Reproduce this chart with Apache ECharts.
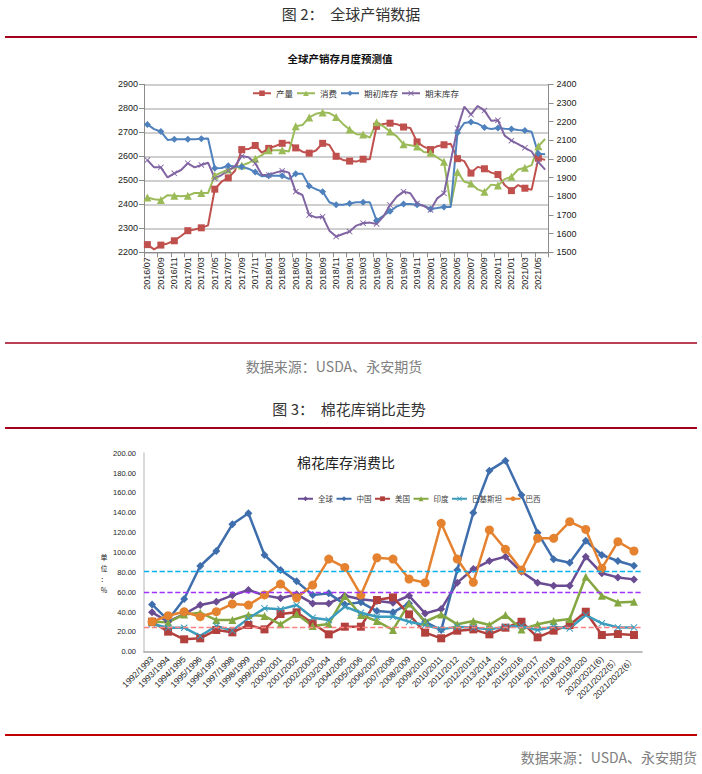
<!DOCTYPE html>
<html><head><meta charset="utf-8">
<script src="https://cdn.jsdelivr.net/npm/echarts@6.0.0/dist/echarts.min.js"></script>
<style>html,body{margin:0;padding:0;background:#fff}#main{width:702px;height:774px}</style>
</head><body><div id="main"></div>
<script>
// ---------- Chart 1: 全球产销存月度预测值 ----------
const months = ['2016/07','2016/08','2016/09','2016/10','2016/11','2016/12',
 '2017/01','2017/02','2017/03','2017/04','2017/05','2017/06','2017/07','2017/08','2017/09','2017/10','2017/11','2017/12',
 '2018/01','2018/02','2018/03','2018/04','2018/05','2018/06','2018/07','2018/08','2018/09','2018/10','2018/11','2018/12',
 '2019/01','2019/02','2019/03','2019/04','2019/05','2019/06','2019/07','2019/08','2019/09','2019/10','2019/11','2019/12',
 '2020/01','2020/02','2020/03','2020/04','2020/05','2020/06','2020/07','2020/08','2020/09','2020/10','2020/11','2020/12',
 '2021/01','2021/02','2021/03','2021/04','2021/05','2021/06'];
const production = [2232,2212,2230,2237,2248,2268,2290,2295,2302,2312,
 2463,2494,2510,2540,2628,2630,2645,2615,2633,2643,
 2654,2658,2635,2619,2613,2624,2654,2647,2600,2585,
 2580,2578,2588,2588,2725,2735,2738,2734,2722,2718,
 2660,2640,2628,2642,2648,2652,2590,2580,2530,2556,
 2548,2532,2524,2480,2457,2480,2467,2461,2592,2585];
const consumption = [2428,2421,2418,2438,2436,2434,2436,2447,2447,2447,
 2520,2533,2545,2552,2562,2572,2590,2605,2625,2625,
 2625,2620,2725,2730,2762,2777,2783,2780,2764,2735,
 2712,2692,2691,2678,2742,2725,2703,2683,2650,2646,
 2641,2618,2615,2595,2577,2395,2535,2494,2487,2462,
 2452,2482,2478,2505,2515,2545,2552,2563,2642,2672];
const beginStock = [2185,2160,2147,2102,2106,2106,2106,2106,2108,2110,
 1950,1952,1964,1960,1958,1948,1930,1907,1910,1910,
 1910,1893,1921,1921,1855,1838,1825,1768,1755,1755,
 1762,1768,1768,1768,1670,1696,1720,1746,1759,1759,
 1755,1750,1732,1737,1743,1743,2140,2193,2198,2190,
 2168,2160,2166,2162,2160,2155,2152,2146,2028,2025];
const endStock = [1994,1955,1955,1901,1923,1941,1977,1955,1968,1980,
 1896,1914,1937,1962,2016,2009,1977,1914,1914,1927,
 1937,1927,1825,1807,1700,1687,1691,1616,1584,1598,
 1611,1643,1656,1659,1652,1691,1753,1798,1825,1816,
 1762,1748,1727,1789,1816,1990,2165,2280,2238,2284,
 2259,2205,2207,2125,2098,2080,2060,2040,1983,1943];

// ---------- Chart 2: 棉花库存消费比 ----------
const seasons = ['1992/1993','1993/1994','1994/1995','1995/1996','1996/1997','1997/1998','1998/1999','1999/2000',
 '2000/2001','2001/2002','2002/2003','2003/2004','2004/2005','2005/2006','2006/2007','2007/2008','2008/2009',
 '2009/2010','2010/2011','2011/2012','2012/2013','2013/2014','2014/2015','2015/2016','2016/2017','2017/2018',
 '2018/2019','2019/2020','2020/2021(6)','2021/2022(5）','2021/2022(6）'];
const ratioGlobal = [39.7,30.2,38.0,47.0,50.4,56.8,62.2,56.8,53.8,57.8,48.7,48.7,56.4,52.8,51.1,49.4,56.4,38.6,43.0,69.6,83.3,91.4,95.8,80.6,69.6,66.5,66.5,95.8,79.0,74.9,72.9];
const ratioChina = [47.7,31.9,53.1,86.4,101.5,128.4,139.5,97.5,82.3,70.9,57.2,58.8,47.7,49.8,41.0,39.7,48.7,30.0,21.8,82.3,140.1,182.5,192.6,157.9,120.0,93.1,89.7,111.9,97.5,91.4,86.7];
const ratioUSA = [30.2,20.2,12.5,13.5,21.9,19.5,26.9,22.5,38.0,39.7,28.6,17.5,25.2,25.2,52.1,54.8,37.6,19.2,13.5,21.2,22.5,17.5,24.2,30.2,14.5,21.2,26.9,40.3,16.8,17.8,16.8];
const ratioIndia = [30.2,29.6,37.6,39.3,31.9,31.9,37.0,36.0,27.6,38.0,25.9,27.9,56.1,37.0,30.9,21.9,48.7,30.2,37.6,27.6,30.9,26.9,37.0,22.5,27.6,30.9,32.9,75.6,56.5,49.7,50.4];
const ratioPakistan = [27.9,24.2,24.2,15.8,25.9,21.2,33.6,43.7,42.7,47.0,34.3,31.9,45.4,39.3,35.3,35.3,30.2,26.9,22.5,25.2,24.2,22.5,25.2,25.9,21.9,25.2,23.5,37.0,28.6,24.5,24.5];
const ratioBrazil = [30.2,36.3,40.3,35.3,40.3,48.1,47.0,57.2,68.2,54.4,67.2,93.4,85.0,57.2,94.7,93.4,73.3,69.6,129.4,93.4,69.9,122.7,103.2,82.3,114.3,114.3,131.1,123.3,84.0,110.9,101.5];
const refLines = [81, 60, 25];

const FONT = "'Liberation Sans','Noto Sans CJK SC',sans-serif";
const CJK = "'Noto Sans CJK SC',sans-serif";
const XSYM = 'path://M0,1L1,0L5,4L9,0L10,1L6,5L10,9L9,10L5,6L1,10L0,9L4,5Z';

const chart = echarts.init(document.getElementById('main'), null, {renderer: 'svg', width: 702, height: 774});

function line1(name, data, color, symbol, size, yIdx) {
  return {name, type: 'line', xAxisIndex: 0, yAxisIndex: yIdx, data,
    symbol, symbolSize: size, lineStyle: {color, width: 2}, itemStyle: {color},
    showSymbol: true};
}
function line2(name, data, color, symbol, size) {
  return {name, type: 'line', xAxisIndex: 1, yAxisIndex: 2, data,
    symbol, symbolSize: size, lineStyle: {color, width: 2.5}, itemStyle: {color}};
}

const s2 = [
  line2('全球', ratioGlobal, '#6a4c93', 'diamond', 8),
  line2('中国', ratioChina, '#3f6ead', 'diamond', 8),
  line2('美国', ratioUSA, '#b2403d', 'rect', 8),
  line2('印度', ratioIndia, '#85a742', 'triangle', 8),
  line2('巴基斯坦', ratioPakistan, '#3b9cbd', XSYM, 7),
  line2('巴西', ratioBrazil, '#e5822f', 'circle', 9)
];
const refColors = ['#00b0f0', '#a033ff', '#ff8080'];
s2[0].markLine = {silent: true, symbol: 'none', label: {show: false}, animation: false,
  data: refLines.map((v, i) => ({yAxis: v, lineStyle: {color: refColors[i], type: 'dashed', width: 1.3}}))};

const option = {
  animation: false,
  backgroundColor: '#fff',
  textStyle: {fontFamily: FONT},
  grid: [
    {left: 144, top: 84.3, width: 404.5, height: 168},
    {left: 144, top: 453.3, width: 498, height: 198.4}
  ],
  legend: [
    {data: ['产量', '消费', '期初库存', '期末库存'], left: 247, top: 84, itemWidth: 18, itemHeight: 7, itemGap: 3,
      textStyle: {fontSize: 8.5, color: '#333', fontFamily: CJK}},
    {data: ['全球', '中国', '美国', '印度', '巴基斯坦', '巴西'], left: 292, top: 490, itemWidth: 15, itemHeight: 6, itemGap: 2.5,
      textStyle: {fontSize: 7.5, color: '#404040', fontFamily: CJK}}
  ],
  xAxis: [
    {gridIndex: 0, type: 'category', data: months, boundaryGap: true,
      axisLine: {lineStyle: {color: '#8c8c8c', width: 1}},
      axisTick: {show: true, interval: 1, lineStyle: {color: '#8c8c8c'}},
      axisLabel: {rotate: 90, interval: 1, fontSize: 9, color: '#222', margin: 5}},
    {gridIndex: 1, type: 'category', data: seasons, boundaryGap: true,
      axisLine: {lineStyle: {color: '#a6a6a6', width: 1.5}},
      axisTick: {show: false},
      axisLabel: {rotate: 45, interval: 0, fontSize: 8.5, color: '#222', margin: 6}}
  ],
  yAxis: [
    {gridIndex: 0, type: 'value', min: 2200, max: 2900, interval: 100,
      axisLine: {show: true, lineStyle: {color: '#8c8c8c'}},
      axisTick: {show: true, lineStyle: {color: '#8c8c8c'}},
      splitLine: {lineStyle: {color: '#bfbfbf', width: 1.5}},
      axisLabel: {fontSize: 9, color: '#222', margin: 6, formatter: v => String(v)}},
    {gridIndex: 0, type: 'value', position: 'right', min: 1500, max: 2400, interval: 100,
      axisLine: {show: true, lineStyle: {color: '#8c8c8c'}},
      axisTick: {show: true, lineStyle: {color: '#8c8c8c'}},
      splitLine: {show: false},
      axisLabel: {fontSize: 9, color: '#222', margin: 8, formatter: v => String(v)}},
    {gridIndex: 1, type: 'value', min: 0, max: 200, interval: 20,
      axisLine: {show: true, lineStyle: {color: '#d9d9d9', width: 2}},
      axisTick: {show: false},
      splitLine: {show: false},
      axisLabel: {fontSize: 7.5, color: '#222', margin: 8, formatter: v => v.toFixed(2)}}
  ],
  series: [
    line1('产量', production, '#c0504d', 'rect', 7, 0),
    line1('消费', consumption, '#9bbb59', 'triangle', 8, 0),
    line1('期初库存', beginStock, '#4f81bd', 'diamond', 7, 1),
    line1('期末库存', endStock, '#8064a2', XSYM, 6, 1),
    ...s2
  ],
  graphic: [
    {type: 'text', left: 'center', top: 6, style: {text: '图 2：  全球产销数据', font: '15px ' + CJK, fill: '#333'}},
    {type: 'line', shape: {x1: 5, y1: 37, x2: 697, y2: 37}, style: {stroke: '#a3001e', lineWidth: 2}},
    {type: 'text', x: 340, y: 58, style: {text: '全球产销存月度预测值', font: 'bold 10.5px ' + CJK, fill: '#111', textAlign: 'center', textVerticalAlign: 'middle'}},
    {type: 'line', shape: {x1: 5, y1: 343, x2: 697, y2: 343}, style: {stroke: '#a3001e', lineWidth: 1.5}},
    {type: 'text', x: 334, y: 366, style: {text: '数据来源：USDA、永安期货', font: '14px ' + CJK, fill: '#808080', textAlign: 'center', textVerticalAlign: 'middle'}},
    {type: 'text', x: 349, y: 408, style: {text: '图 3：  棉花库销比走势', font: '15px ' + CJK, fill: '#333', textAlign: 'center', textVerticalAlign: 'middle'}},
    {type: 'line', shape: {x1: 5, y1: 428, x2: 697, y2: 428}, style: {stroke: '#a3001e', lineWidth: 2}},
    {type: 'text', x: 346, y: 462, style: {text: '棉花库存消费比', font: '14px ' + CJK, fill: '#222', textAlign: 'center', textVerticalAlign: 'middle'}},
    {type: 'text', x: 104, y: 573, style: {text: '单\n位\n：\n%', font: '7px ' + CJK, fill: '#222', textAlign: 'center', textVerticalAlign: 'middle', lineHeight: 11}},
    {type: 'line', shape: {x1: 5, y1: 735, x2: 697, y2: 735}, style: {stroke: '#c00000', lineWidth: 2}},
    {type: 'text', x: 697, y: 757, style: {text: '数据来源：USDA、永安期货', font: '14px ' + CJK, fill: '#808080', textAlign: 'right', textVerticalAlign: 'middle'}}
  ]
};
chart.setOption(option);
</script></body></html>
